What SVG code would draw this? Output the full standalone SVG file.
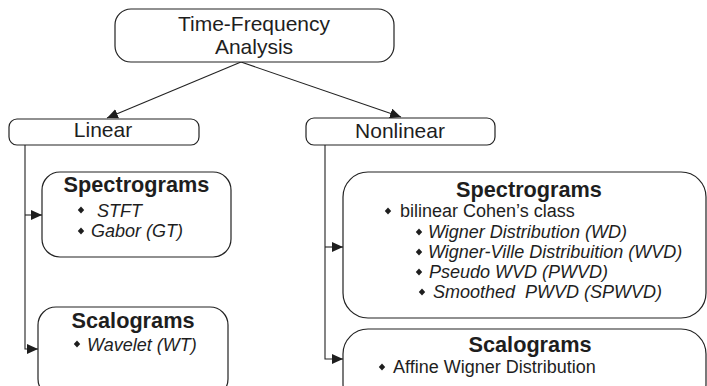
<svg xmlns="http://www.w3.org/2000/svg" width="707" height="386" viewBox="0 0 707 386">
<style>
.box{fill:#fff;stroke:#222;stroke-width:1.2}
.t{font-family:"Liberation Sans",Arial,sans-serif;fill:#1e1e1e}
.h{font-size:21px;text-anchor:middle}
.b{font-size:21.7px;font-weight:bold;text-anchor:middle}
.i{font-size:18px;font-style:italic}
.r{font-size:18px}
.c{fill:none;stroke:#222;stroke-width:1.1}
.d{fill:#1e1e1e}
</style>
<defs>
<marker id="ah" markerUnits="userSpaceOnUse" markerWidth="12" markerHeight="10" refX="11" refY="5" orient="auto">
<path d="M0,0 L11,5 L0,10 Z" fill="#1e1e1e"/>
</marker>
<path id="dm" d="M0,-3.4 L3.2,0 L0,3.4 L-3.2,0 Z"/>
</defs>
<rect width="707" height="386" fill="#fff"/>
<g id="connectors">
<path class="c" d="M241,62 L107,118" marker-end="url(#ah)"/>
<path class="c" d="M241,62 L401,117" marker-end="url(#ah)"/>
<path class="c" d="M25,145 V349 H38" marker-end="url(#ah)"/>
<path class="c" d="M25,215 H42" marker-end="url(#ah)"/>
<path class="c" d="M325,145 V359 H343" marker-end="url(#ah)"/>
<path class="c" d="M325,247 H343" marker-end="url(#ah)"/>
</g>
<g id="tfa">
<rect class="box" x="115" y="9" width="279" height="53" rx="16"/>
<text class="t h" x="254" y="30.5">Time-Frequency</text>
<text class="t h" x="254" y="53.5">Analysis</text>
</g>
<g id="linear">
<rect class="box" x="9" y="119" width="190" height="26" rx="8"/>
<text class="t h" x="103" y="137">Linear</text>
</g>
<g id="nonlinear">
<rect class="box" x="306" y="118" width="189" height="27" rx="8"/>
<text class="t h" x="400" y="138">Nonlinear</text>
</g>
<g id="lin-spectrograms">
<rect class="box" x="42" y="172" width="189" height="85" rx="18"/>
<text class="t b" x="136.5" y="192">Spectrograms</text>
<use href="#dm" class="d" x="81" y="210"/>
<text class="t i" x="97" y="217">STFT</text>
<use href="#dm" class="d" x="81" y="231"/>
<text class="t i" x="91" y="237">Gabor (GT)</text>
</g>
<g id="lin-scalograms">
<rect class="box" x="38" y="307" width="190" height="90" rx="18"/>
<text class="t b" x="133" y="328">Scalograms</text>
<use href="#dm" class="d" x="77" y="344"/>
<text class="t i" x="87" y="351">Wavelet (WT)</text>
</g>
<g id="nl-spectrograms">
<rect class="box" x="343" y="172" width="363" height="146" rx="25"/>
<text class="t b" x="529" y="197">Spectrograms</text>
<use href="#dm" class="d" x="388" y="211"/>
<text class="t r" x="400" y="217">bilinear Cohen’s class</text>
<use href="#dm" class="d" x="419" y="232"/>
<text class="t i" x="428" y="238">Wigner Distribution (WD)</text>
<use href="#dm" class="d" x="419" y="252"/>
<text class="t i" x="428" y="258">Wigner-Ville Distribuition (WVD)</text>
<use href="#dm" class="d" x="419" y="272"/>
<text class="t i" x="429" y="278">Pseudo WVD (PWVD)</text>
<use href="#dm" class="d" x="422" y="292"/>
<text class="t i" x="433" y="298" xml:space="preserve">Smoothed  PWVD (SPWVD)</text>
</g>
<g id="nl-scalograms">
<rect class="box" x="343" y="329" width="363" height="80" rx="25"/>
<text class="t b" x="530" y="352">Scalograms</text>
<use href="#dm" class="d" x="382" y="367"/>
<text class="t r" x="393" y="373">Affine Wigner Distribution</text>
</g>
</svg>
